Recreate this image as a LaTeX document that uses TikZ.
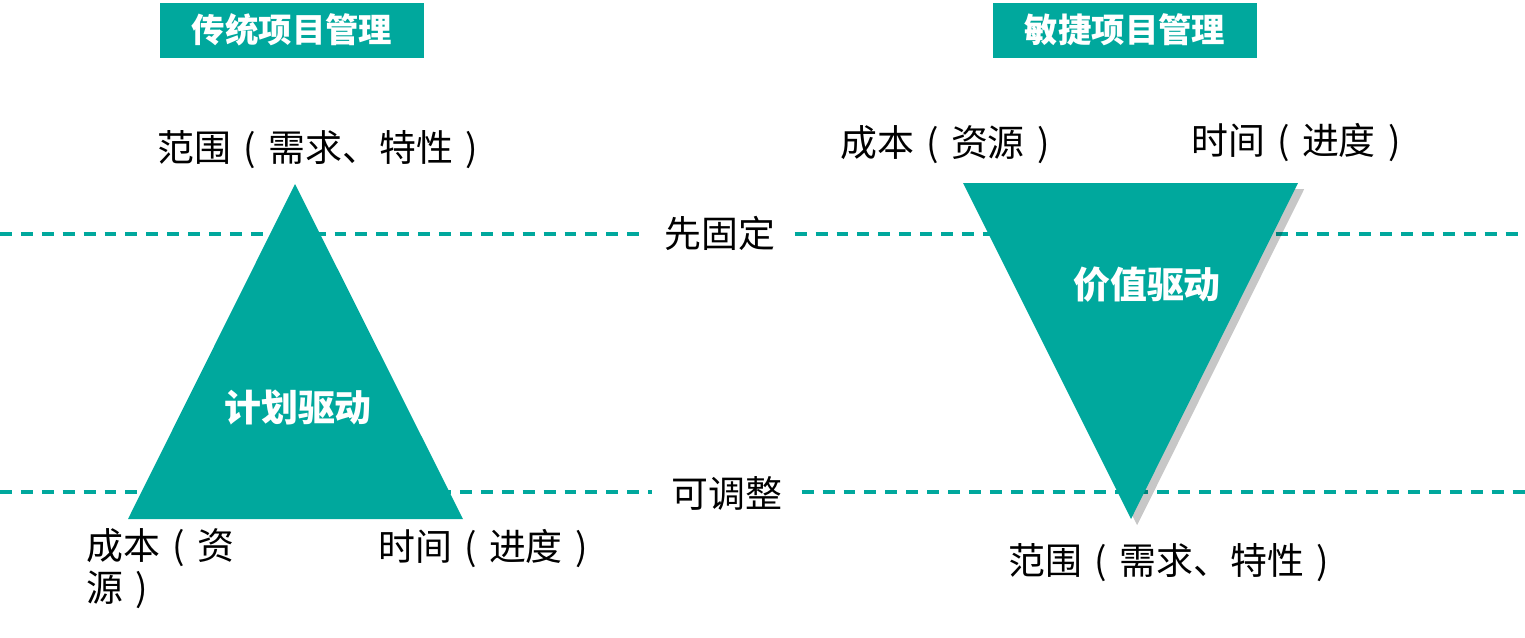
\documentclass[tikz,border=0pt]{standalone}
\usepackage{fontspec}
\usepackage{tikz}
\usetikzlibrary{positioning,shadows}
\newfontfamily\cjk{Noto Sans CJK SC}
\definecolor{pmteal}{HTML}{00A89D}
\newcommand\pmlp{\makebox[1em]{(}}
\newcommand\pmrp{\makebox[1em]{)}}

\begin{document}
\begin{tikzpicture}[
    x=0.02cm, y=-0.02cm,
    titlebox/.style={rectangle, fill=pmteal, text=white, inner sep=0pt,
                 minimum width=5.28cm, minimum height=1.1cm,
                 font=\cjk\bfseries\fontsize{19}{22}\selectfont},
    lbl/.style={font=\cjk\fontsize{21}{24}\selectfont, inner sep=0pt},
    midlbl/.style={lbl, inner xsep=0.38cm},
    drive/.style={font=\cjk\bfseries\fontsize{21}{24}\selectfont, text=white, inner sep=0pt},
    guide/.style={draw=pmteal, line width=1.9pt, dash pattern=on 6.8pt off 5.1pt},
    tri/.style={fill=pmteal},
]
    \useasboundingbox (0,0) rectangle (1525,637);

    % titles
    \node[titlebox] (trad) at (292,30) {传统项目管理};
    \node[titlebox] (agile) at (1125,30) {敏捷项目管理};

    % guide lines
    \node[midlbl] (fixed) at (720,233) {先固定};
    \node[midlbl] (adjust) at (727,493) {可调整};
    \coordinate (fixedL) at (0,234);
    \coordinate (fixedR) at (1525,234);
    \coordinate (adjustL) at (0,492);
    \coordinate (adjustR) at (1525,492);
    \draw[guide] (fixedL) -- (fixed.west |- fixedL);
    \draw[guide] (fixed.east |- fixedR) -- (fixedR);
    \draw[guide] (adjustL) -- (adjust.west |- adjustL);
    \draw[guide] (adjust.east |- adjustR) -- (adjustR);

    % triangles
    \coordinate (topL) at (295,184);
    \coordinate (rightL) at (463,519);
    \coordinate (leftL) at (128,519);
    \fill[tri] (topL) -- (rightL) -- (leftL) -- cycle;
    \coordinate (leftR) at (963,183);
    \coordinate (rightR) at (1298,183);
    \coordinate (botR) at (1131,519);
    \fill[tri, drop shadow={shadow xshift=3.5pt, shadow yshift=-3.5pt, fill=black, opacity=0.22}]
        (leftR) -- (rightR) -- (botR) -- cycle;

    \node[drive] (plan) at (298,408) {计划驱动};
    \node[drive] (value) at (1147,285) {价值驱动};

    % corner labels
    \node[lbl] (scopeL) at (324,150) {范围\pmlp 需求、特性\pmrp};
    \node[lbl, align=left, anchor=north west] (costL) at (86,528) {成本\pmlp 资\\源\pmrp};
    \node[lbl] (timeL) at (489,549) {时间\pmlp 进度\pmrp};
    \node[lbl] (costR) at (951,145) {成本\pmlp 资源\pmrp};
    \node[lbl] (timeR) at (1302,143) {时间\pmlp 进度\pmrp};
    \node[lbl] (scopeR) at (1175,563) {范围\pmlp 需求、特性\pmrp};
\end{tikzpicture}
\end{document}
